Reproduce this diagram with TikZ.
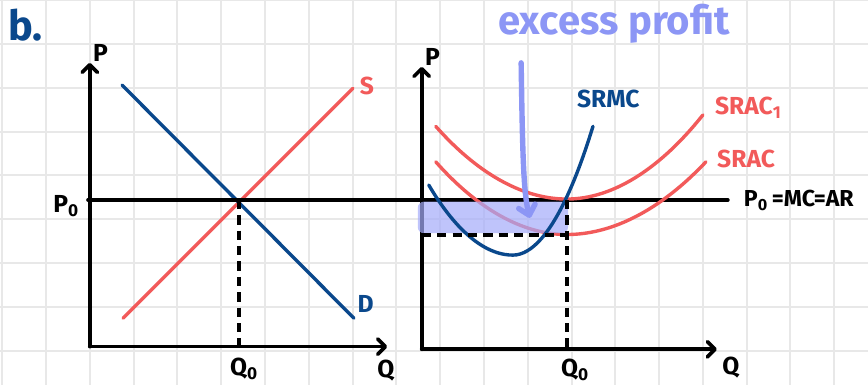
\documentclass[tikz,border=0pt]{standalone}
\usepackage{fontspec}
\setmainfont{Fira Sans}
\usetikzlibrary{arrows.meta}
\definecolor{redcurve}{RGB}{242,90,90}
\definecolor{bluecurve}{RGB}{10,72,140}
\definecolor{lavender}{RGB}{140,150,245}
\definecolor{profitfill}{RGB}{165,172,250}
\definecolor{gridgray}{RGB}{232,232,232}

\begin{document}
\begin{tikzpicture}[
    axis/.style={line width=2.4pt, line cap=round, -{Straight Barb[length=5pt,width=10pt,round]}},
    level/.style={line width=2.4pt, line cap=round},
    guide/.style={line width=2.4pt, dash pattern=on 6pt off 4pt},
    curve/.style={line width=2.2pt, line cap=round},
    lbl/.style={font=\bfseries\fontsize{16}{16}\selectfont, inner sep=0pt}
]
    \useasboundingbox (-0.05,-0.785) rectangle (19.77,8.005);

    % Grid paper
    \fill[white] (-0.05,-0.785) rectangle (19.77,8.005);
    \draw[gridgray, line width=1.3pt] (-0.05,-0.785) grid (19.77,8.005);

    \node[lbl, anchor=base west, text=bluecurve, font=\bfseries\fontsize{27}{27}\selectfont] (part) at (0.13,7.09) {b.};

    % Market: axes
    \draw[axis] (2,0.09) -- (2,6.57);
    \draw[axis] (2,0.09) -- (8.79,0.09);
    \node[lbl, anchor=base west] (pm) at (2.07,6.59) {P};
    \node[lbl] (qm) at (8.76,-0.46) {Q};

    % Market: supply and demand
    \draw[curve, redcurve] (2.76,0.74) -- (8.01,5.99);
    \node[lbl, text=redcurve] (s) at (8.33,6.04) {S};
    \draw[curve, bluecurve] (2.74,6.06) -- (8.03,0.74);
    \node[lbl, text=bluecurve] (d) at (8.30,1.06) {D};

    % Price line across both graphs
    \draw[level] (1.96,3.44) -- (16.57,3.44);
    \node[lbl, anchor=base west] (p0) at (1.16,3.16) {P\textsubscript{0}};
    \node[lbl, anchor=base west, font=\bfseries\fontsize{15}{15}\selectfont] (rule) at (16.93,3.28) {P\textsubscript{0}\,=MC=AR};

    % Market: equilibrium quantity
    \draw[guide] (5.41,3.44) -- (5.41,0.09);
    \node[lbl] (q0m) at (5.52,-0.42) {Q\textsubscript{0}};

    % Firm: axes
    \draw[axis] (9.58,0.03) -- (9.58,6.48);
    \draw[axis] (9.58,0.03) -- (16.32,0.03);
    \node[lbl, anchor=base west] (pf) at (9.65,6.52) {P};
    \node[lbl] (qf) at (16.64,-0.39) {Q};

    % Firm: cost curves
    \draw[curve, redcurve] (9.90,5.12) parabola bend (12.89,3.46) (16.00,5.38);
    \node[lbl, anchor=base west, text=redcurve] (srac1) at (16.27,5.38) {SRAC\textsubscript{1}};
    \draw[curve, redcurve] (9.90,4.31) parabola bend (12.89,2.65) (16.07,4.31);
    \node[lbl, anchor=base west, text=redcurve] (srac) at (16.32,4.17) {SRAC};

    % Excess profit area
    \fill[profitfill, opacity=0.7, rounded corners=4pt] (9.49,2.68) rectangle (12.92,3.40);

    \draw[curve, bluecurve] (9.74,3.78) parabola bend (11.66,2.18) (13.49,5.12);
    \node[lbl, anchor=base west, text=bluecurve] (srmc) at (13.12,5.56) {SRMC};

    % Firm: quantity and average cost
    \draw[guide] (12.89,3.44) -- (12.89,0.03);
    \draw[guide] (9.58,2.64) -- (12.89,2.64);
    \node[lbl] (q0f) at (13.08,-0.44) {Q\textsubscript{0}};

    % Pointer
    \node[anchor=base west, inner sep=0pt, text=lavender, font=\bfseries\fontsize{26}{26}\selectfont] (excess) at (11.32,7.21) {excess profit};
    \coordinate (from) at (11.85,6.57);
    \coordinate (to) at (12.05,3.03);
    \draw[lavender, line width=3.5pt, line cap=round, -{Straight Barb[length=6pt,width=11pt,round]}]
        (from) .. controls (11.88,4.6) and (11.9,3.6) .. (to);
\end{tikzpicture}
\end{document}
